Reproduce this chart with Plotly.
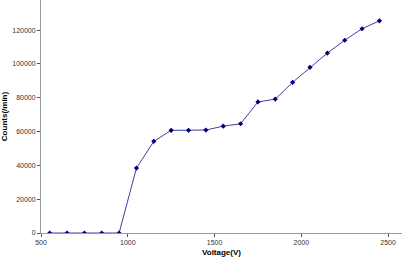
import plotly.graph_objects as go

voltage = [550, 650, 750, 850, 950, 1050, 1150, 1250, 1350, 1450, 1550, 1650, 1750, 1850, 1950, 2050, 2150, 2250, 2350, 2450]
counts = [0, 0, 0, 0, 0, 38400, 54200, 60700, 60700, 60900, 63200, 64600, 77500, 79200, 89100, 98000, 106400, 114000, 120800, 125500]
x_ticks = [500, 1000, 1500, 2000, 2500]
y_ticks = [0, 20000, 40000, 60000, 80000, 100000, 120000]
y_labels = ["0", "20000", "40000", "60000", "80000", "100000", "120000"]

fig = go.Figure()
fig.add_trace(go.Scatter(
    x=voltage, y=counts, mode="lines+markers",
    line=dict(color="#4040a0", width=1),
    marker=dict(symbol="diamond", size=4, color="#000080"),
    showlegend=False,
))

axfont = dict(family="Liberation Sans, Arial, sans-serif", size=7, color="#333333")
titlefont = dict(family="Liberation Sans, Arial, sans-serif", size=8, color="#000000")
fig.update_layout(
    width=402, height=258,
    margin=dict(l=41, r=0, t=0, b=25),
    paper_bgcolor="white", plot_bgcolor="white",
    font=axfont,
    xaxis=dict(
        range=[500, 2580], tickvals=x_ticks, showgrid=False, zeroline=False,
        showline=True, linecolor="#999999", linewidth=1,
        ticks="outside", ticklen=3, tickcolor="#555555",
        tickfont=axfont,
        title=dict(text="<b>Voltage(V)</b>", font=titlefont, standoff=3),
    ),
    yaxis=dict(
        range=[0, 137800], tickvals=y_ticks, ticktext=y_labels, showgrid=False, zeroline=False,
        showline=True, linecolor="#999999", linewidth=1,
        ticks="outside", ticklen=3, tickcolor="#555555",
        tickfont=axfont,
        title=dict(text="<b>Counts(/min)</b>", font=titlefont, standoff=4),
    ),
)

fig.write_html("out.html")
